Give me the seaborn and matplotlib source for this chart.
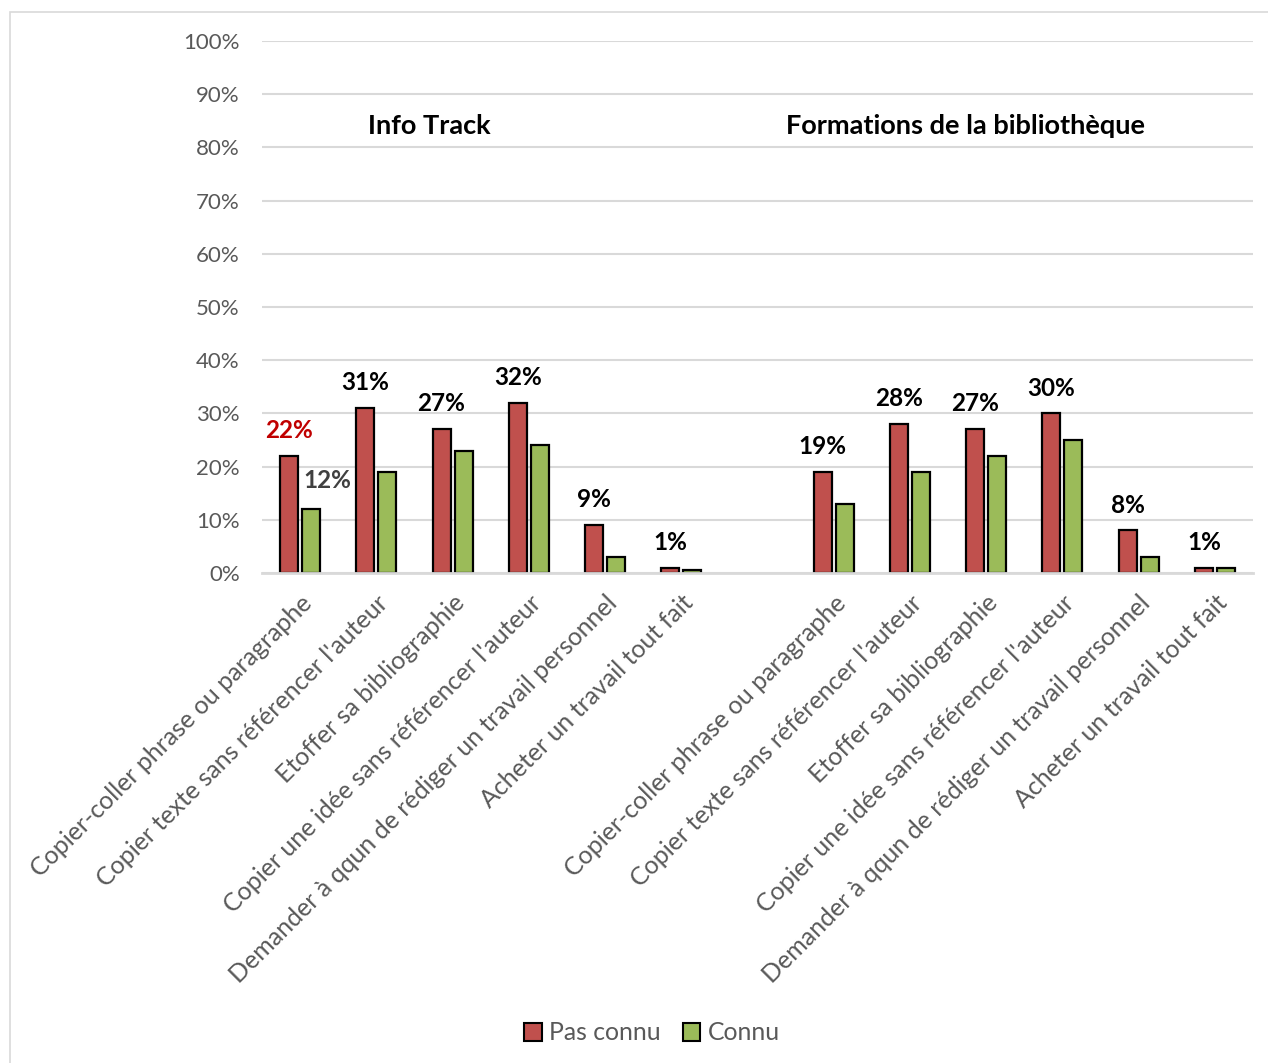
"""
Recreation du graphique : connaissance des pratiques de plagiat
(Info Track vs Formations de la bibliotheque).
"""

import numpy as np
import pandas as pd
import matplotlib
matplotlib.use('Agg')
import matplotlib.pyplot as plt
import matplotlib.patches as mpatches
from matplotlib.ticker import PercentFormatter
import seaborn as sns

RED = '#C0504D'
GREEN = '#9BBB59'
GRID = '#D9D9D9'
TXT = '#595959'

# ─────────────────────────────────────────────────────────────────────────────
# Données
# ─────────────────────────────────────────────────────────────────────────────
categories = [
    "Copier-coller phrase ou paragraphe",
    "Copier texte sans référencer l'auteur",
    "Etoffer sa bibliographie",
    "Copier une idée sans référencer l'auteur",
    "Demander à qqun de rédiger un travail personnel",
    "Acheter un travail tout fait",
]
groups = ["Info Track", "Formations de la bibliothèque"]
series = ["Pas connu", "Connu"]

info_pas_connu = [22, 31, 27, 32, 9, 1]
info_connu = [12, 19, 23, 24, 3, 0.5]
form_pas_connu = [19, 28, 27, 30, 8, 1]
form_connu = [13, 19, 22, 25, 3, 1]

# slots : 6 catégories, un vide, 6 catégories
slots_a = [f"A{i}" for i in range(len(categories))]
slots_b = [f"B{i}" for i in range(len(categories))]
order = slots_a + ["gap"] + slots_b
tick_labels = categories + [""] + categories

rows = []
for slot, pc, c in zip(slots_a, info_pas_connu, info_connu):
    rows.append({'slot': slot, 'serie': series[0], 'val': pc / 100})
    rows.append({'slot': slot, 'serie': series[1], 'val': c / 100})
for slot, pc, c in zip(slots_b, form_pas_connu, form_connu):
    rows.append({'slot': slot, 'serie': series[0], 'val': pc / 100})
    rows.append({'slot': slot, 'serie': series[1], 'val': c / 100})
df = pd.DataFrame(rows)

# ─────────────────────────────────────────────────────────────────────────────
# Figure
# ─────────────────────────────────────────────────────────────────────────────
sns.set_style('white')
plt.rcParams['font.family'] = ['Lato', 'DejaVu Sans']

fig = plt.figure(figsize=(12.68, 10.63), dpi=100)
ax = fig.add_axes([262 / 1268, 1 - 573 / 1063, (1253 - 262) / 1268, (573 - 41) / 1063])

sns.barplot(data=df, x='slot', y='val', hue='serie', order=order,
            hue_order=series, palette=[RED, GREEN], width=0.578, gap=0.18,
            edgecolor='black', linewidth=1.6, saturation=1, legend=False, ax=ax)

ax.set_ylim(0, 1)
ax.set_xlim(-0.5, len(order) - 0.5)
ax.set_yticks(np.arange(0, 1.01, 0.1))
ax.yaxis.set_major_formatter(PercentFormatter(1.0, decimals=0))
ax.yaxis.grid(True, color=GRID, linewidth=1.5)
ax.set_axisbelow(True)
for s in ['top', 'right', 'left']:
    ax.spines[s].set_visible(False)
ax.spines['bottom'].set_color(GRID)
ax.spines['bottom'].set_linewidth(2)
ax.set_xlabel('')
ax.set_ylabel('')
ax.tick_params(axis='both', length=0, colors=TXT)
ax.tick_params(axis='y', pad=16, labelsize=16)
ax.set_xticks(range(len(order)))
ax.set_xticklabels(tick_labels, rotation=45, ha='right', rotation_mode='anchor')
ax.tick_params(axis='x', pad=13, labelsize=18)

# étiquettes des barres "Pas connu"
red_bars = ax.containers[0]
pas_connu_all = info_pas_connu + [None] + form_pas_connu
k = 0
for i, v in enumerate(pas_connu_all):
    if v is None:
        continue
    bar = red_bars[k]
    k += 1
    color = '#C00000' if i == 0 else 'black'
    ax.annotate(f"{v}%", (bar.get_x() + bar.get_width() / 2, bar.get_height()),
                xytext=(0, 10), textcoords='offset points', ha='center', va='bottom',
                fontsize=17.5, fontweight='bold', color=color)

# étiquette isolée sur la première barre "Connu"
gbar = ax.containers[1][0]
ax.annotate(f"{info_connu[0]}%", (gbar.get_x() + gbar.get_width() / 2, gbar.get_height()),
            xytext=(12, 12), textcoords='offset points', ha='center', va='bottom',
            fontsize=17.5, fontweight='bold', color='#404040')

# titres des groupes
ax.text(1.7, 0.84, groups[0], ha='center', va='center', fontsize=19.5,
        fontweight='bold', color='black')
ax.text(8.73, 0.84, groups[1], ha='center', va='center', fontsize=19.5,
        fontweight='bold', color='black')

# légende
handles = [mpatches.Patch(facecolor=RED, edgecolor='black', linewidth=1.5, label=series[0]),
           mpatches.Patch(facecolor=GREEN, edgecolor='black', linewidth=1.5, label=series[1])]
fig.legend(handles=handles, loc='center', bbox_to_anchor=(652 / 1268, 1 - 1033 / 1063),
           ncol=2, frameon=False, fontsize=17.8, handlelength=0.7, handleheight=0.7,
           handletextpad=0.3, columnspacing=0.9, labelcolor=TXT)

# cadre du graphique
fig.add_artist(mpatches.Rectangle((10 / 1268, -0.01), 1.0, 1 - 12 / 1063 + 0.01,
                                  transform=fig.transFigure, fill=False,
                                  edgecolor=GRID, linewidth=1.2))

fig.savefig('out.png', dpi=100)
